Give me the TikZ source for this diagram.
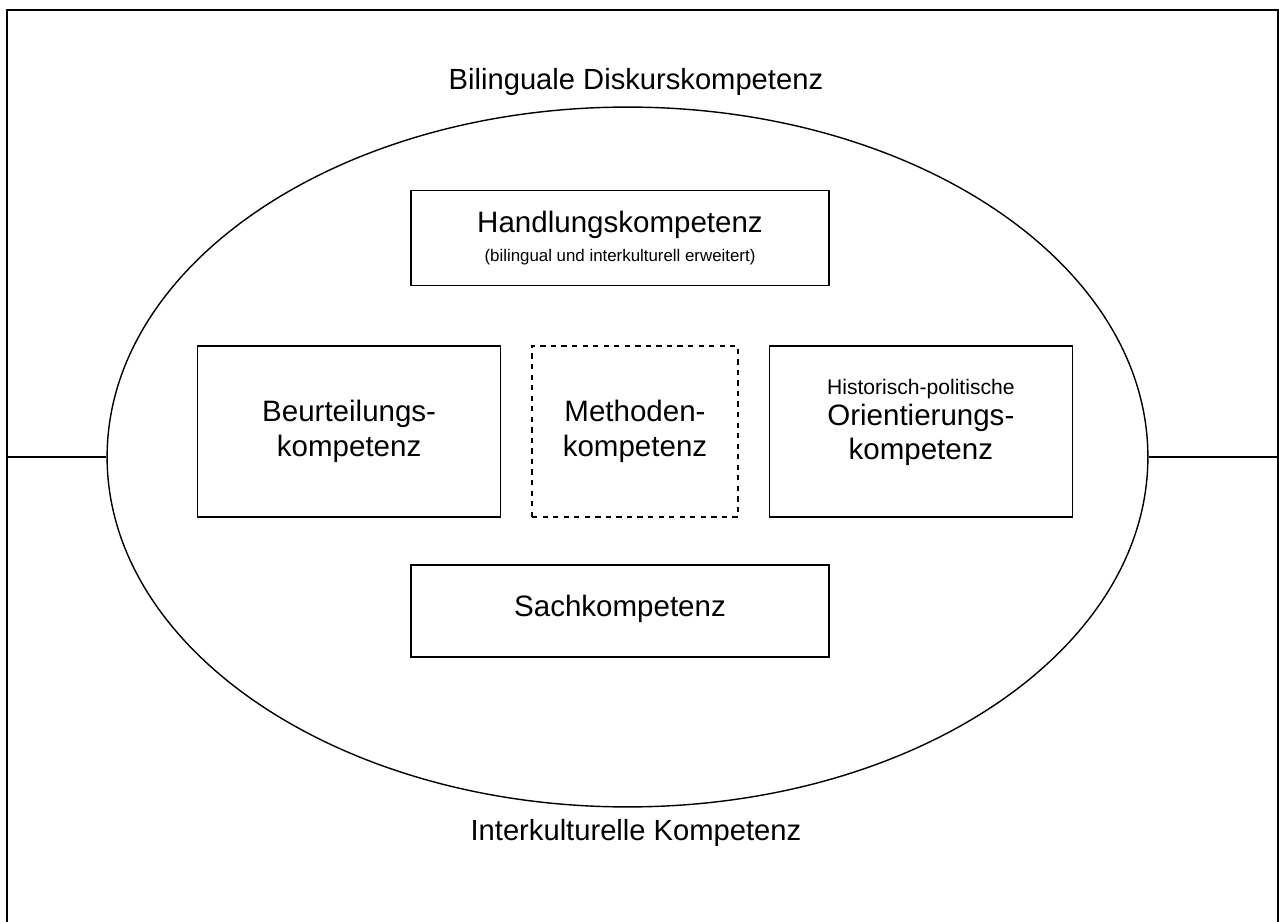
\documentclass[tikz,border=0pt]{standalone}
\usepackage{fontspec}
\setmainfont{Liberation Sans}
\usetikzlibrary{positioning, shapes.geometric}

\begin{document}
\begin{tikzpicture}[x = 0.02cm, y = -0.02cm,
    kbox/.style = { draw, line width = 0.8pt, align = center, inner sep = 0pt, font = \fontsize{16.8}{19.6}\selectfont },
    label/.style = { align = center, font = \fontsize{16.6}{19.6}\selectfont }]
  \useasboundingbox (0, 0) rectangle (1279, 922);
  \clip (0, 0) rectangle (1279, 922);
  \draw[line width = 1.1pt] (7, 10) rectangle (1278, 940);

  \node (diskurs) [label] at (640, 82) { Bilinguale Diskurskompetenz };
  \node (interkult) [label] at (640, 833) { Interkulturelle Kompetenz };

  \node (ell) [draw, ellipse, line width = 0.8pt, inner sep = 0pt, minimum width = 20.82cm, minimum height = 14cm] at (627.5, 457) { };
  \coordinate (fl) at (7, 457);
  \coordinate (fr) at (1278, 457);
  \draw[line width = 0.8pt] (fl) -- (ell.west);
  \draw[line width = 0.8pt] (ell.east) -- (fr);

  \node (meth) [kbox, dashed, minimum width = 4.12cm, minimum height = 3.42cm] at (635, 431.5) { Methoden-\\kompetenz };
  \node (beurt) [kbox, minimum width = 6.06cm, minimum height = 3.42cm, left = 0.6cm of meth] { Beurteilungs-\\kompetenz };
  \node (orient) [kbox, minimum width = 6.06cm, minimum height = 3.42cm, right = 0.6cm of meth] { {\fontsize{12}{14}\selectfont Historisch-politische}\\[-2pt]Orientierungs-\\kompetenz\\[-6pt] };
  \node (hand) [kbox, minimum width = 8.36cm, minimum height = 1.9cm] at (620, 238) { Handlungskompetenz\\[-3pt]{\fontsize{9.6}{11.5}\selectfont (bilingual und interkulturell erweitert)} };
  \node (sach) [kbox, minimum width = 8.36cm, minimum height = 1.84cm] at (620, 611) { Sachkompetenz\\[-14pt] };
\end{tikzpicture}
\end{document}
